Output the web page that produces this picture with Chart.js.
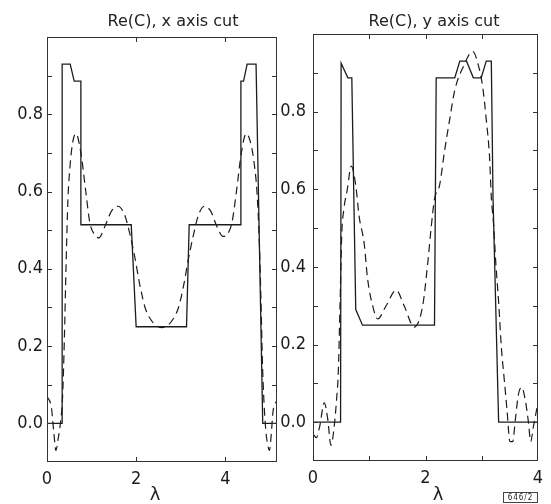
<!DOCTYPE html>
<html>
<head>
<meta charset="utf-8">
<script src="https://cdn.jsdelivr.net/npm/chart.js@4"></script>
<style>
  body { margin: 0; background: #fff; }
  #wrap { position: relative; width: 551px; height: 504px; overflow: hidden; }
  canvas { position: absolute; top: 0; }
  .txt { position: absolute; font-family: "DejaVu Sans", sans-serif; color: #222; white-space: nowrap; line-height: 20px; transform: translateX(-50%); }
  .title { top: 11px; font-size: 16px; }
  .lambda { top: 484px; font-size: 18px; }
  #stamp { position: absolute; left: 503px; top: 492px; width: 33px; height: 9px; border: 1px solid #444;
           font: 8px "DejaVu Sans Condensed", sans-serif; line-height: 9px; text-align: center; letter-spacing: 1px; color: #222; }
</style>
</head>
<body>
<div id="wrap">
  <canvas id="left-chart" width="282" height="504" style="left:0"></canvas>
  <canvas id="right-chart" width="281" height="504" style="left:270px"></canvas>
  <div class="txt title" style="left:173px">Re(C), x axis cut</div>
  <div class="txt title" style="left:434px">Re(C), y axis cut</div>
  <div class="txt lambda" style="left:155px">λ</div>
  <div class="txt lambda" style="left:438px">λ</div>
  <div id="stamp">646/2</div>
</div>
<script>
// x axis cut
const xCutSolidX = [0, 0.34, 0.34, 0.52, 0.61, 0.76, 0.76, 1.89, 2.0, 3.13, 3.19, 4.35, 4.35, 4.41, 4.49, 4.69, 4.84, 5.16];
const xCutSolidY = [0, 0, 0.93, 0.93, 0.886, 0.886, 0.514, 0.514, 0.25, 0.25, 0.514, 0.514, 0.886, 0.886, 0.93, 0.93, 0, 0];
const xCutDashX = [0, 0.1, 0.15, 0.2, 0.25, 0.3, 0.35, 0.39, 0.43, 0.47, 0.52, 0.58, 0.65, 0.76, 0.87, 0.96, 1.06, 1.16,
  1.3, 1.45, 1.59, 1.74, 1.86, 1.97, 2.08, 2.2, 2.32, 2.45, 2.57, 2.7, 2.83, 2.95, 3.07, 3.18, 3.29, 3.4, 3.53,
  3.67, 3.81, 3.95, 4.05, 4.15, 4.25, 4.36, 4.47, 4.56, 4.64, 4.71, 4.76, 4.8, 4.83, 4.87, 4.91, 4.95, 4.99,
  5.03, 5.07, 5.16];
const xCutDashY = [0.07, 0.04, -0.02, -0.07, -0.04, 0.0, 0.07, 0.22, 0.42, 0.58, 0.67, 0.73, 0.75, 0.7, 0.6, 0.52, 0.49, 0.48,
  0.51, 0.55, 0.562, 0.54, 0.49, 0.43, 0.36, 0.3, 0.27, 0.253, 0.248, 0.253, 0.27, 0.3, 0.36, 0.43, 0.49, 0.54, 0.562,
  0.55, 0.51, 0.484, 0.49, 0.52, 0.6, 0.7, 0.75, 0.73, 0.68, 0.6, 0.48, 0.32, 0.17, 0.05, -0.02, -0.055, -0.07,
  -0.03, 0.03, 0.06];

// y axis cut
const yCutSolidX = [0, 0.49, 0.5, 0.62, 0.69, 0.76, 0.88, 2.16, 2.19, 2.52, 2.61, 2.73, 2.85, 2.99, 3.08, 3.17, 3.2, 3.3, 4.0];
const yCutSolidY = [0, 0, 0.925, 0.887, 0.887, 0.29, 0.25, 0.25, 0.887, 0.887, 0.93, 0.93, 0.887, 0.887, 0.93, 0.93, 0.58, 0, 0];
const yCutDashX = [0, 0.06, 0.12, 0.2, 0.26, 0.32, 0.37, 0.42, 0.45, 0.48, 0.51, 0.55, 0.61, 0.68, 0.76, 0.82, 0.91, 0.97,
  1.06, 1.15, 1.3, 1.48, 1.62, 1.8, 1.95, 2.04, 2.1, 2.16, 2.25, 2.34, 2.43, 2.52, 2.67, 2.84, 2.93, 3.02, 3.08,
  3.14, 3.17, 3.21, 3.25, 3.3, 3.35, 3.4, 3.45, 3.5, 3.55, 3.6, 3.65, 3.71, 3.77, 3.83, 3.87, 3.92, 4.0];
const yCutDashY = [-0.03, -0.04, -0.01, 0.05, 0.01, -0.06, -0.02, 0.06, 0.13, 0.3, 0.48, 0.55, 0.6, 0.66, 0.61, 0.53, 0.46, 0.37,
  0.3, 0.266, 0.3, 0.34, 0.3, 0.245, 0.3, 0.41, 0.5, 0.575, 0.61, 0.7, 0.78, 0.855, 0.915, 0.955, 0.925, 0.86, 0.78,
  0.68, 0.58, 0.51, 0.41, 0.31, 0.19, 0.11, 0.03, -0.05, -0.05, 0.01, 0.07, 0.09, 0.06, 0.0, -0.05, -0.01, 0.05];

const ink = '#1c1c1c';
const tickFont = { family: '"DejaVu Sans Condensed", "DejaVu Sans", sans-serif', size: 18 };

const toPoints = (xs, ys) => xs.map((x, i) => ({ x: x, y: ys[i] }));

// frame round the plot area with short ticks pointing inwards on all four sides
const frameTicks = {
    id: 'frameTicks',
    afterDraw(chart) {
        const { ctx, chartArea: a, scales } = chart;
        ctx.save();
        ctx.strokeStyle = '#333';
        ctx.lineWidth = 1;
        ctx.strokeRect(a.left + 0.5, a.top + 0.5, a.right - a.left - 1, a.bottom - a.top - 1);
        ctx.beginPath();
        scales.y.ticks.forEach(t => {
            const py = Math.round(scales.y.getPixelForValue(t.value)) + 0.5;
            if (py <= a.top + 2 || py >= a.bottom - 2) return;
            ctx.moveTo(a.left, py); ctx.lineTo(a.left + 5, py);
            ctx.moveTo(a.right - 5, py); ctx.lineTo(a.right, py);
        });
        scales.x.ticks.forEach(t => {
            const px = Math.round(scales.x.getPixelForValue(t.value)) + 0.5;
            if (px <= a.left + 2 || px >= a.right - 2) return;
            ctx.moveTo(px, a.bottom); ctx.lineTo(px, a.bottom - 5);
            ctx.moveTo(px, a.top); ctx.lineTo(px, a.top + 5);
        });
        ctx.stroke();
        ctx.restore();
    }
};

function makeCut(id, solidX, solidY, dashX, dashY, xMax, xStep, box) {
    new Chart(document.getElementById(id), {
        type: 'line',
        data: {
            datasets: [
                {
                    data: toPoints(solidX, solidY),
                    borderColor: ink,
                    borderWidth: 1.3,
                    pointRadius: 0,
                    tension: 0
                },
                {
                    data: toPoints(dashX, dashY),
                    borderColor: ink,
                    borderWidth: 1.2,
                    borderDash: [8, 5],
                    pointRadius: 0,
                    cubicInterpolationMode: 'monotone'
                }
            ]
        },
        options: {
            responsive: false,
            animation: false,
            layout: { padding: { left: 0, right: box.right, top: box.top, bottom: 0 } },
            plugins: { legend: { display: false }, tooltip: { enabled: false } },
            scales: {
                x: {
                    type: 'linear',
                    min: 0,
                    max: xMax,
                    grid: { display: false, drawTicks: false },
                    border: { display: false },
                    afterFit: scale => { scale.height = box.xh; },
                    ticks: {
                        stepSize: xStep,
                        includeBounds: false,
                        padding: 7,
                        color: ink,
                        font: tickFont,
                        maxRotation: 0,
                        autoSkip: false,
                        callback: v => (Math.round(v) % 2 === 0 ? String(Math.round(v)) : '')
                    }
                },
                y: {
                    type: 'linear',
                    min: -0.1,
                    max: 1.0,
                    grid: { display: false, drawTicks: false },
                    border: { display: false },
                    afterFit: scale => { scale.width = box.yw; },
                    ticks: {
                        stepSize: 0.1,
                        padding: box.ypad,
                        color: ink,
                        font: tickFont,
                        autoSkip: false,
                        callback: v => {
                            const k = Math.round(v * 10);
                            return (k >= 0 && k <= 8 && k % 2 === 0) ? (k / 10).toFixed(1) : '';
                        }
                    }
                }
            }
        },
        plugins: [frameTicks]
    });
}

makeCut('left-chart', xCutSolidX, xCutSolidY, xCutDashX, xCutDashY, 5.16, 2,
    { top: 37, right: 5, xh: 42, yw: 47, ypad: 4 });
makeCut('right-chart', yCutSolidX, yCutSolidY, yCutDashX, yCutDashY, 4, 1,
    { top: 34, right: 13, xh: 43, yw: 43, ypad: 7 });
</script>
</body>
</html>
